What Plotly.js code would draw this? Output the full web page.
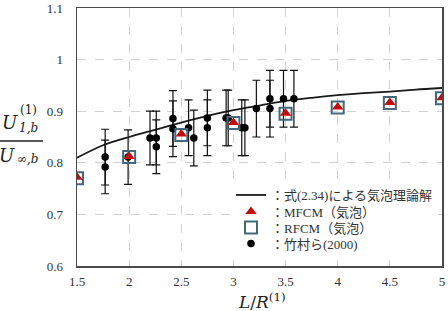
<!DOCTYPE html>
<html>
<head>
<meta charset="utf-8">
<script src="https://cdn.plot.ly/plotly-3.0.1.min.js"></script>
<style>
  html, body { margin: 0; padding: 0; background: #fff; }
  #chart { width: 448px; height: 311px; }
</style>
</head>
<body>
<div id="chart"></div>
<script>
// Theoretical curve, eq. (2.34)
const theoryX = [1.5, 1.75, 2.0, 2.25, 2.5, 2.75, 3.0, 3.25, 3.5, 3.75, 4.0, 4.25, 4.5, 4.75, 5.0];
const theoryY = [0.810, 0.834, 0.850, 0.864, 0.878, 0.891, 0.902, 0.911, 0.920, 0.926, 0.931, 0.935, 0.938, 0.942, 0.945];

// MFCM / RFCM bubble simulations
const simX = [1.5, 2.0, 2.5, 3.0, 3.5, 4.0, 4.5, 5.0];
const mfcmY = [0.772, 0.812, 0.856, 0.878, 0.896, 0.908, 0.917, 0.926];
const rfcmY = [0.770, 0.811, 0.854, 0.877, 0.895, 0.907, 0.916, 0.925];

// Takemura et al. (2000) measurements with error bars
const tkX = [1.77, 1.77, 1.99, 2.20, 2.26, 2.26, 2.42, 2.42, 2.57, 2.62, 2.75, 2.75,
             2.93, 2.95, 3.08, 3.11, 3.22, 3.35, 3.35, 3.48, 3.58];
const tkY = [0.811, 0.792, 0.811, 0.848, 0.848, 0.831, 0.886, 0.866, 0.868, 0.848, 0.887, 0.868,
             0.887, 0.887, 0.868, 0.868, 0.905, 0.924, 0.905, 0.924, 0.924];
const tkErr = [0.054, 0.052, 0.053, 0.052, 0.052, 0.052, 0.054, 0.054, 0.054, 0.054, 0.054, 0.054,
               0.054, 0.054, 0.054, 0.054, 0.055, 0.055, 0.055, 0.055, 0.055];

const legendNames = ['：式(2.34)による気泡理論解', '：MFCM（気泡）', '：RFCM（気泡）', '：竹村ら(2000)'];

// plot box in pixels, used to place the outside labels
const L = 77, R = 442, T = 8, B = 266;
const px = v => (v - L) / (R - L);
const py = v => (B - v) / (B - T);

const serif = "'Liberation Serif', 'Times New Roman', serif";
const mathFont = "'DejaVu Serif', serif";
const legendFont = "'Liberation Serif', 'Noto Sans CJK JP', serif";

const traces = [
  {
    x: theoryX, y: theoryY, type: 'scatter', mode: 'lines',
    line: { color: '#1a1a1a', width: 1.8, shape: 'spline', smoothing: 0.8 },
    name: legendNames[0], legend: 'legend'
  },
  {
    x: tkX, y: tkY, type: 'scatter', mode: 'markers',
    marker: { symbol: 'circle', color: '#000', size: 7.5 },
    error_y: { type: 'data', array: tkErr, visible: true, color: '#111', thickness: 1.2, width: 4 },
    name: legendNames[3], legend: 'legend4'
  },
  {
    x: simX, y: rfcmY, type: 'scatter', mode: 'markers',
    marker: { symbol: 'square-open', color: '#44687a', size: 12, line: { width: 2, color: '#44687a' } },
    name: legendNames[2], legend: 'legend3'
  },
  {
    x: simX, y: mfcmY, type: 'scatter', mode: 'markers',
    marker: { symbol: 'triangle-up', color: '#c00d0d', size: 10 },
    name: legendNames[1], legend: 'legend2'
  }
];

const axisCommon = {
  showgrid: true, gridcolor: '#d2d2d2', griddash: 'dash', gridwidth: 1,
  showline: true, linecolor: '#4a4a4a', linewidth: 1.5, mirror: true,
  ticks: '', zeroline: false,
  tickfont: { family: serif, size: 13, color: '#333' }
};

const annotations = [
  // y-axis label as a stacked fraction
  { text: '<i>U</i>', x: px(10), y: py(122), font: { family: mathFont, size: 18, color: '#222' } },
  { text: '(1)', x: px(28), y: py(110), font: { family: mathFont, size: 12, color: '#222' } },
  { text: '<i>1,b</i>', x: px(28), y: py(128), font: { family: mathFont, size: 12, color: '#222' } },
  { text: '<i>U</i>', x: px(7), y: py(155), font: { family: mathFont, size: 18, color: '#222' } },
  { text: '<i>∞,b</i>', x: px(28), y: py(159), font: { family: mathFont, size: 12, color: '#222' } },
  // x-axis label
  { text: '<i>L</i>/<i>R</i><sup>(1)</sup>', x: px(262), y: py(301),
    font: { family: mathFont, size: 17, color: '#222' } }
].map(a => Object.assign({ xref: 'paper', yref: 'paper', showarrow: false, xanchor: 'center', yanchor: 'middle' }, a));

// one legend box per row so the rows sit at the same spacing as the key
const rowY = [195, 211.5, 227.5, 243.5];
const legendBox = row => ({
  x: px(231), y: py(rowY[row]), xanchor: 'left', yanchor: 'middle',
  bgcolor: 'rgba(255,255,255,0)', borderwidth: 0, itemwidth: 30,
  font: { family: legendFont, size: 13, color: '#333' }
});

const layout = {
  width: 448, height: 311,
  margin: { l: L, r: 448 - R, t: T, b: 311 - B, pad: 0 },
  paper_bgcolor: '#fff', plot_bgcolor: '#fff',
  showlegend: true,
  legend: legendBox(0),
  legend2: legendBox(1),
  legend3: legendBox(2),
  legend4: legendBox(3),
  xaxis: Object.assign({}, axisCommon, { range: [1.5, 5], tick0: 1.5, dtick: 0.5, ticklabelstandoff: 3 }),
  yaxis: Object.assign({}, axisCommon, { range: [0.6, 1.1], tick0: 0.6, dtick: 0.1, ticklabelstandoff: 10 }),
  annotations: annotations,
  shapes: [
    { type: 'line', xref: 'paper', yref: 'paper', x0: px(0), x1: px(43), y0: py(141), y1: py(141),
      line: { color: '#222', width: 1.5 } },
    // blank backing behind the key
    { type: 'rect', xref: 'paper', yref: 'paper', x0: px(232), x1: px(438), y0: py(185), y1: py(253),
      fillcolor: '#fff', line: { width: 0 }, layer: 'above' }
  ]
};

Plotly.newPlot('chart', traces, layout, { displayModeBar: false, staticPlot: true });
</script>
</body>
</html>
